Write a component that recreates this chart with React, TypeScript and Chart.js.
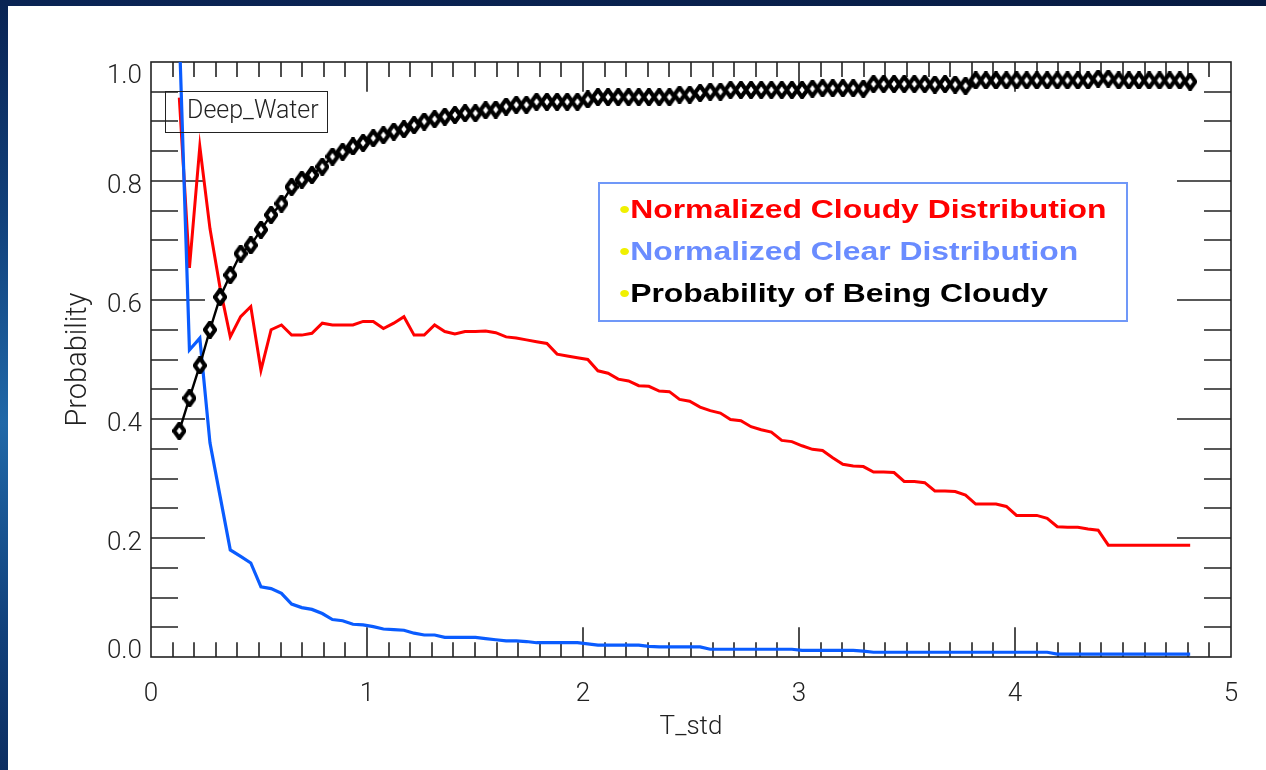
import React, { useEffect, useRef } from "react";
import { Chart, registerables } from "chart.js";

Chart.register(...registerables);

// ---- data ----
const T_STD = [
  0.131, 0.178, 0.226, 0.273, 0.32, 0.367, 0.415, 0.462, 0.509, 0.556,
  0.604, 0.651, 0.698, 0.745, 0.793, 0.84, 0.887, 0.935, 0.982, 1.029,
  1.076, 1.124, 1.171, 1.218, 1.265, 1.313, 1.36, 1.407, 1.454, 1.502,
  1.549, 1.596, 1.644, 1.691, 1.738, 1.785, 1.833, 1.88, 1.927, 1.974,
  2.022, 2.069, 2.116, 2.163, 2.211, 2.258, 2.305, 2.353, 2.4, 2.447,
  2.494, 2.542, 2.589, 2.636, 2.683, 2.731, 2.778, 2.825, 2.872, 2.92,
  2.967, 3.014, 3.062, 3.109, 3.156, 3.203, 3.251, 3.298, 3.345, 3.392,
  3.44, 3.487, 3.534, 3.582, 3.629, 3.676, 3.723, 3.771, 3.818, 3.865,
  3.912, 3.96, 4.007, 4.054, 4.101, 4.149, 4.196, 4.243, 4.291, 4.338,
  4.385, 4.432, 4.48, 4.527, 4.574, 4.621, 4.669, 4.716, 4.763, 4.811,
];

const PROB_CLOUDY = [
  0.38, 0.435, 0.49, 0.55, 0.605, 0.642, 0.678, 0.692, 0.718, 0.743,
  0.762, 0.79, 0.802, 0.81, 0.824, 0.841, 0.849, 0.858, 0.864, 0.872,
  0.877, 0.883, 0.887, 0.894, 0.9, 0.904, 0.908, 0.911, 0.914, 0.914,
  0.919, 0.92, 0.925, 0.928, 0.928, 0.933, 0.933, 0.933, 0.933, 0.933,
  0.937, 0.941, 0.941, 0.941, 0.941, 0.941, 0.941, 0.941, 0.941, 0.945,
  0.945, 0.948, 0.95, 0.95, 0.953, 0.953, 0.953, 0.953, 0.953, 0.953,
  0.953, 0.953, 0.955, 0.956, 0.956, 0.956, 0.956, 0.955, 0.963, 0.963,
  0.963, 0.963, 0.963, 0.963, 0.962, 0.963, 0.962, 0.96, 0.969, 0.969,
  0.969, 0.969, 0.969, 0.969, 0.969, 0.969, 0.969, 0.969, 0.969, 0.969,
  0.972, 0.972, 0.969, 0.969, 0.969, 0.969, 0.969, 0.969, 0.969, 0.967,
];

const CLOUDY_DIST = [
  0.94, 0.654, 0.858, 0.72, 0.62, 0.538, 0.572, 0.589, 0.482, 0.55,
  0.558, 0.541, 0.541, 0.544, 0.561, 0.558, 0.558, 0.558, 0.564, 0.564,
  0.552, 0.561, 0.572, 0.541, 0.541, 0.558, 0.547, 0.543, 0.547, 0.547,
  0.548, 0.545, 0.538, 0.536, 0.533, 0.53, 0.527, 0.509, 0.506, 0.503,
  0.5, 0.481, 0.477, 0.467, 0.464, 0.456, 0.455, 0.447, 0.446, 0.433,
  0.43, 0.42, 0.414, 0.41, 0.399, 0.397, 0.387, 0.382, 0.378, 0.364,
  0.362, 0.355, 0.349, 0.347, 0.335, 0.324, 0.321, 0.32, 0.311, 0.311,
  0.31, 0.295, 0.295, 0.293, 0.279, 0.279, 0.278, 0.272, 0.257, 0.257,
  0.257, 0.253, 0.238, 0.238, 0.238, 0.233, 0.219, 0.218, 0.218, 0.215,
  0.213, 0.188, 0.188, 0.188, 0.188, 0.188, 0.188, 0.188, 0.188, 0.188,
];

const CLEAR_DIST = [
  1.05, 0.516, 0.536, 0.36, 0.27, 0.18, 0.169, 0.158, 0.118, 0.115,
  0.107, 0.089, 0.083, 0.08, 0.073, 0.063, 0.061, 0.055, 0.054, 0.051,
  0.047, 0.046, 0.045, 0.04, 0.037, 0.037, 0.033, 0.033, 0.033, 0.033,
  0.031, 0.029, 0.027, 0.027, 0.026, 0.024, 0.024, 0.024, 0.024, 0.024,
  0.022, 0.02, 0.02, 0.02, 0.02, 0.02, 0.018, 0.017, 0.017, 0.017,
  0.017, 0.017, 0.013, 0.013, 0.013, 0.013, 0.013, 0.013, 0.013, 0.013,
  0.013, 0.011, 0.011, 0.011, 0.011, 0.011, 0.011, 0.01, 0.008, 0.008,
  0.008, 0.008, 0.008, 0.008, 0.008, 0.008, 0.008, 0.008, 0.008, 0.008,
  0.008, 0.008, 0.008, 0.008, 0.008, 0.008, 0.005, 0.005, 0.005, 0.005,
  0.005, 0.005, 0.005, 0.005, 0.005, 0.005, 0.005, 0.005, 0.005, 0.005,
];

const X_TICKS = [0, 1, 2, 3, 4, 5];
const Y_TICKS = [0, 0.2, 0.4, 0.6, 0.8, 1.0];
const Y_TICK_LABELS = ["0.0", "0.2", "0.4", "0.6", "0.8", "1.0"];

const SERIES_NAMES = [
  "Normalized Cloudy Distribution",
  "Normalized Clear Distribution",
  "Probability of Being Cloudy",
];
const SERIES_TEXT_COLORS = ["#ff0000", "#6a8cff", "#000000"];
const BOX_LABEL = "Deep_Water";
const X_TITLE = "T_std";
const Y_TITLE = "Probability";

// ---- styles ----
const THIN_FONT = "Roboto, 'DejaVu Sans', sans-serif";
const AXIS_COLOR = "#222222";
const PANEL_W = 1258;
const PANEL_H = 764;

function makeDiamond(): HTMLCanvasElement {
  const c = document.createElement("canvas");
  c.width = 14;
  c.height = 18;
  const g = c.getContext("2d")!;
  g.beginPath();
  g.moveTo(7, 1.8);
  g.lineTo(12.2, 9);
  g.lineTo(7, 16.2);
  g.lineTo(1.8, 9);
  g.closePath();
  g.fillStyle = "#ffffff";
  g.fill();
  g.lineWidth = 4.2;
  g.lineJoin = "miter";
  g.strokeStyle = "#000000";
  g.stroke();
  return c;
}

const idlFrame = {
  id: "idlFrame",
  beforeDatasetsDraw(chart: any) {
    const { ctx, chartArea: a, scales } = chart;
    const x = scales.x;
    const y = scales.y;
    const h = a.bottom - a.top;
    const w = a.right - a.left;
    ctx.save();
    ctx.strokeStyle = AXIS_COLOR;
    ctx.lineWidth = 1.6;
    ctx.strokeRect(a.left, a.top, w, h);
    ctx.beginPath();
    for (let k = 1; k < 50; k++) {
      const px = Math.round(x.getPixelForValue(k / 10));
      const len = k % 10 === 0 ? 0.05 * h : 0.025 * h;
      ctx.moveTo(px, a.bottom);
      ctx.lineTo(px, a.bottom - len);
      ctx.moveTo(px, a.top);
      ctx.lineTo(px, a.top + len);
    }
    for (let k = 1; k < 20; k++) {
      const py = Math.round(y.getPixelForValue(k * 0.05));
      const len = k % 4 === 0 ? 0.05 * w : 0.025 * w;
      ctx.moveTo(a.left, py);
      ctx.lineTo(a.left + len, py);
      ctx.moveTo(a.right, py);
      ctx.lineTo(a.right - len, py);
    }
    ctx.stroke();

    // y tick labels (kept inside the axis range like the original)
    ctx.fillStyle = AXIS_COLOR;
    ctx.font = `300 26px ${THIN_FONT}`;
    ctx.textAlign = "right";
    ctx.textBaseline = "alphabetic";
    Y_TICKS.forEach((v, i) => {
      const py = y.getPixelForValue(v);
      let off = 12;
      if (i === 0) off = 1;
      if (i === Y_TICKS.length - 1) off = 21;
      ctx.fillText(Y_TICK_LABELS[i], a.left - 9, py + off);
    });
    ctx.restore();
  },
};

function ChartCanvas() {
  const ref = useRef<HTMLCanvasElement | null>(null);
  useEffect(() => {
    if (!ref.current) return;
    const diamond = makeDiamond();
    const pts = (ys: number[]) => T_STD.map((t, i) => ({ x: t, y: ys[i] }));
    const chart = new Chart(ref.current, {
      type: "line",
      data: {
        datasets: [
          {
            label: SERIES_NAMES[2],
            data: pts(PROB_CLOUDY),
            borderColor: "#000000",
            borderWidth: 2.4,
            pointStyle: diamond as any,
            pointRadius: 7,
            pointHoverRadius: 7,
            tension: 0,
          },
          {
            label: SERIES_NAMES[1],
            data: pts(CLEAR_DIST),
            borderColor: "#0a5cff",
            borderWidth: 3.2,
            pointRadius: 0,
            tension: 0,
          },
          {
            label: SERIES_NAMES[0],
            data: pts(CLOUDY_DIST),
            borderColor: "#ff0000",
            borderWidth: 3,
            pointRadius: 0,
            tension: 0,
          },
        ],
      },
      options: {
        responsive: false,
        maintainAspectRatio: false,
        devicePixelRatio: 1,
        animation: false,
        events: [],
        layout: { padding: { left: 0, right: 35, top: 56, bottom: 0 } },
        plugins: {
          legend: { display: false },
          tooltip: { enabled: false },
        },
        scales: {
          x: {
            type: "linear",
            position: "bottom",
            min: X_TICKS[0],
            max: X_TICKS[X_TICKS.length - 1],
            afterFit: (s: any) => {
              s.height = 113;
            },
            afterBuildTicks: (s: any) => {
              s.ticks = X_TICKS.map((v) => ({ value: v }));
            },
            ticks: {
              color: AXIS_COLOR,
              font: { family: THIN_FONT, size: 26, weight: "300" as any },
              padding: 22,
              maxRotation: 0,
              autoSkip: false,
              callback: (v: any) => String(v),
            },
            grid: { display: false, drawTicks: false },
            border: { display: false },
            title: {
              display: true,
              text: X_TITLE,
              color: AXIS_COLOR,
              font: { family: THIN_FONT, size: 26, weight: "300" as any },
              padding: { top: 0, bottom: 27 },
            },
          },
          y: {
            type: "linear",
            position: "left",
            min: Y_TICKS[0],
            max: Y_TICKS[Y_TICKS.length - 1],
            afterFit: (s: any) => {
              s.width = 143;
            },
            ticks: { display: false },
            grid: { display: false, drawTicks: false },
            border: { display: false },
            title: {
              display: true,
              text: Y_TITLE,
              color: AXIS_COLOR,
              font: { family: THIN_FONT, size: 29, weight: "300" as any },
              padding: { top: 53, bottom: 0 },
            },
          },
        },
      },
      plugins: [idlFrame],
    });
    return () => chart.destroy();
  }, []);
  return (
    <canvas
      ref={ref}
      width={PANEL_W}
      height={PANEL_H}
      style={{ display: "block", width: PANEL_W, height: PANEL_H }}
    />
  );
}

export default function App() {
  const lineTops = [203, 245, 287];
  return (
    <div
      style={{
        position: "fixed",
        left: 0,
        top: 0,
        width: 1266,
        height: 770,
        overflow: "hidden",
        background:
          "radial-gradient(ellipse at 0% 55%, #2068a8 0%, #11407a 35%, #0a2454 70%, #071a40 100%)",
      }}
    >
      <div
        style={{
          position: "absolute",
          left: 8,
          top: 6,
          width: PANEL_W,
          height: PANEL_H,
          background: "#ffffff",
        }}
      >
        <ChartCanvas />
        {/* Deep_Water box */}
        <div
          style={{
            position: "absolute",
            left: 157,
            top: 85,
            width: 163,
            height: 42,
            boxSizing: "border-box",
            border: `1.6px solid ${AXIS_COLOR}`,
          }}
        />
        <div
          style={{
            position: "absolute",
            left: 179,
            top: 89,
            height: 30,
            lineHeight: "30px",
            fontFamily: THIN_FONT,
            fontWeight: 300,
            fontSize: 25,
            color: AXIS_COLOR,
            whiteSpace: "nowrap",
          }}
        >
          {BOX_LABEL}
        </div>
        {/* Series legend box */}
        <div
          style={{
            position: "absolute",
            left: 590,
            top: 176,
            width: 530,
            height: 140,
            boxSizing: "border-box",
            border: "2px solid #7098f8",
          }}
        />
        {SERIES_NAMES.map((name, i) => (
          <div
            key={name}
            style={{
              position: "absolute",
              left: 611,
              top: lineTops[i] - 15,
              height: 30,
              lineHeight: "30px",
              fontFamily: "'Liberation Sans', Arial, sans-serif",
              fontWeight: 700,
              fontSize: 25.5,
              whiteSpace: "nowrap",
              transform: "scaleX(1.25)",
              transformOrigin: "left center",
            }}
          >
            <span style={{ color: "#f0f000", fontWeight: 400 }}>{"\u2022"}</span>
            <span style={{ color: SERIES_TEXT_COLORS[i] }}>{name}</span>
          </div>
        ))}
      </div>
    </div>
  );
}
